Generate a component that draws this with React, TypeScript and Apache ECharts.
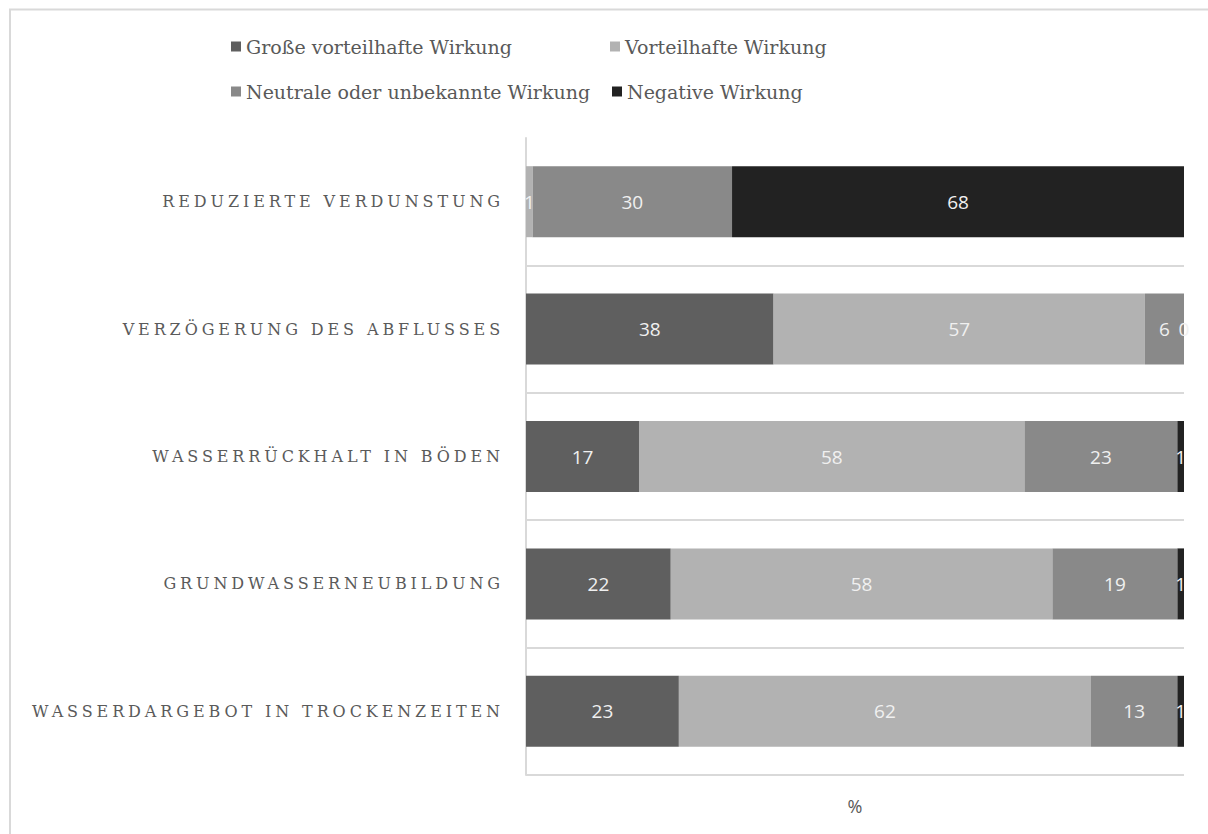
import React, { useEffect, useRef } from "react";
import * as echarts from "echarts";

const categories = [
  "REDUZIERTE VERDUNSTUNG",
  "VERZÖGERUNG DES ABFLUSSES",
  "WASSERRÜCKHALT IN BÖDEN",
  "GRUNDWASSERNEUBILDUNG",
  "WASSERDARGEBOT IN TROCKENZEITEN",
];
const seriesNames = [
  "Große vorteilhafte Wirkung",
  "Vorteilhafte Wirkung",
  "Neutrale oder unbekannte Wirkung",
  "Negative Wirkung",
];
const grosseVorteilhaft: (number | null)[] = [null, 38, 17, 22, 23];
const vorteilhaft: (number | null)[] = [1, 57, 58, 58, 62];
const neutral: (number | null)[] = [30, 6, 23, 19, 13];
const negativ: (number | null)[] = [68, 0, 1, 1, 1];
const seriesColors = ["#5f5f5f", "#b2b2b2", "#898989", "#222222"];
const axisName = "%";

const rawSeries = [grosseVorteilhaft, vorteilhaft, neutral, negativ];
const legendPos = [
  { left: 231, top: 37 },
  { left: 610, top: 37 },
  { left: 231, top: 82 },
  { left: 612, top: 82 },
];

export default function App() {
  const ref = useRef<HTMLDivElement>(null);
  useEffect(() => {
    if (!ref.current) return;
    const chart = echarts.init(ref.current, undefined, { renderer: "svg" });
    const totals = categories.map((_, i) =>
      rawSeries.reduce((s, arr) => s + (arr[i] ?? 0), 0)
    );
    const series = rawSeries.map((arr, si) => ({
      name: seriesNames[si],
      type: "bar",
      stack: "total",
      barWidth: 71,
      itemStyle: { color: seriesColors[si] },
      label: {
        show: true,
        position: "inside",
        color: "#f0f0f0",
        fontFamily: "'Open Sans', sans-serif",
        fontSize: 19,
        formatter: (p: any) => {
          const v = arr[p.dataIndex];
          return v === null || v === undefined ? "" : String(v);
        },
      },
      data: arr.map((v, i) => (v === null ? null : (v / totals[i]) * 100)),
    }));
    const legends = seriesNames.map((n, i) => ({
      ...legendPos[i],
      padding: 0,
      orient: "horizontal",
      icon: "rect",
      itemWidth: 10,
      itemHeight: 10,
      data: [n],
      textStyle: {
        color: "#595959",
        fontFamily: "'DejaVu Serif', serif",
        fontSize: 19,
      },
    }));
    chart.setOption({
      animation: false,
      backgroundColor: "#ffffff",
      graphic: [
        {
          type: "rect",
          shape: { x: 10, y: 9.5, width: 1400, height: 1000 },
          style: { fill: "none", stroke: "#d9d9d9", lineWidth: 2 },
          silent: true,
        },
      ],
      legend: legends,
      grid: { left: 526, right: 24, top: 138, bottom: 59, containLabel: false },
      xAxis: {
        type: "value",
        min: 0,
        max: 100,
        axisLabel: { show: false },
        axisLine: { show: false },
        axisTick: { show: false },
        splitLine: { show: false },
        name: axisName,
        nameLocation: "middle",
        nameGap: 22,
        nameTextStyle: {
          color: "#595959",
          fontFamily: "'Open Sans', sans-serif",
          fontSize: 18,
        },
      },
      yAxis: {
        type: "category",
        inverse: true,
        data: categories,
        axisLine: { show: true, lineStyle: { color: "#d9d9d9", width: 2 } },
        axisTick: { show: false },
        splitLine: {
          show: true,
          showMinLine: false,
          lineStyle: { color: "#d9d9d9", width: 2 },
        },
        axisLabel: {
          color: "#5a5a5a",
          fontFamily: "'DejaVu Serif', serif",
          fontSize: 16,
          margin: 22,
        },
      },
      series,
    });
    return () => chart.dispose();
  }, []);
  return (
    <>
      <style>{`#root text[fill="#5a5a5a"]{letter-spacing:3.9px;}`}</style>
      <div
        ref={ref}
        style={{ position: "fixed", left: 0, top: 0, width: 1208, height: 834 }}
      />
    </>
  );
}
